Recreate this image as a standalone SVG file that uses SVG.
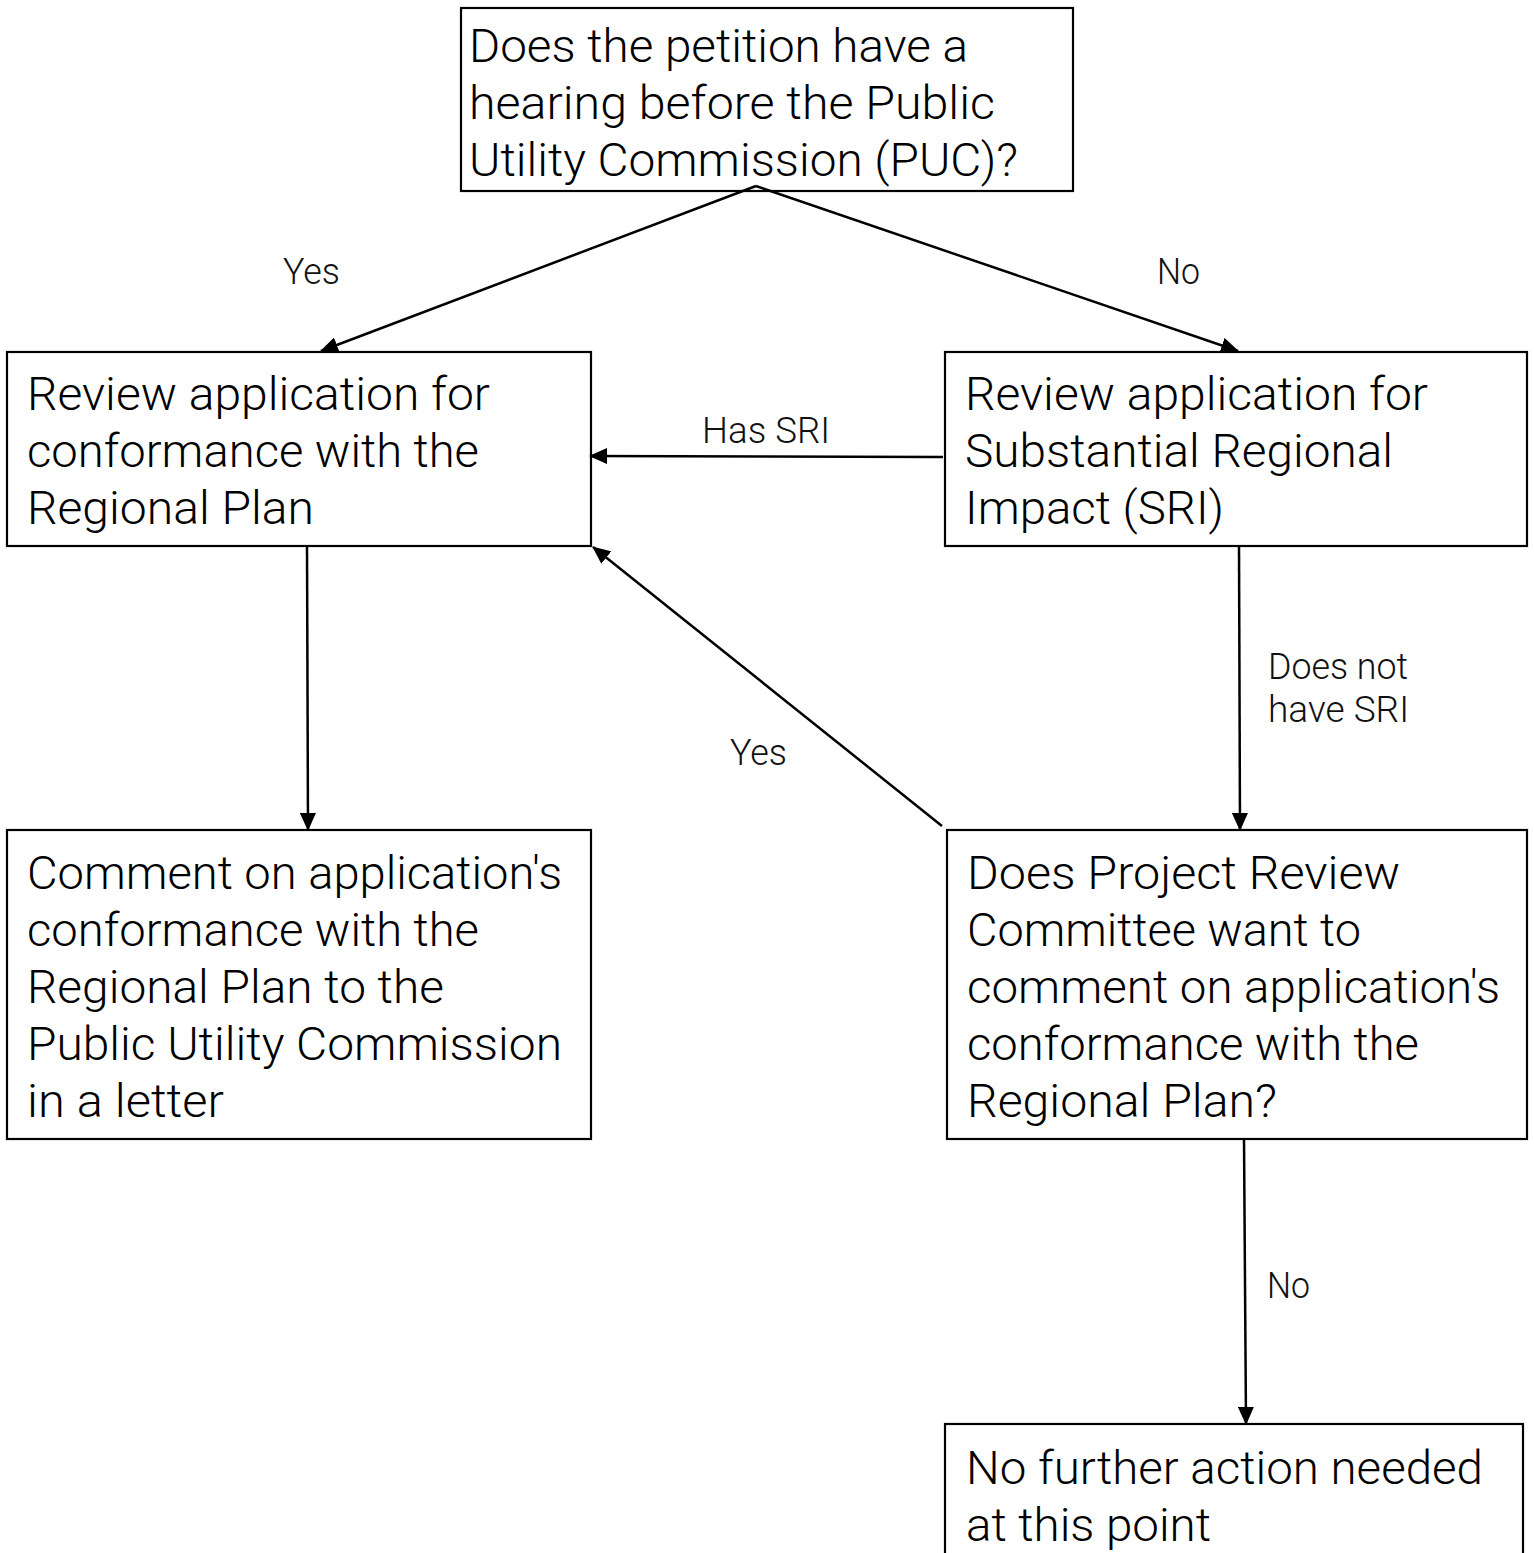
<svg xmlns="http://www.w3.org/2000/svg" width="1534" height="1553" viewBox="0 0 1534 1553">
<style>
  .box { fill: #ffffff; stroke: #000000; stroke-width: 2.2; }
  .t { font-family: Roboto, "Liberation Sans", sans-serif; font-weight: 300; font-size: 47px; fill: #000000; }
  .lbl { font-family: Roboto, "Liberation Sans", sans-serif; font-weight: 300; font-size: 36px; fill: #111111; }
  .edge { stroke: #000000; stroke-width: 2.5; fill: none; marker-end: url(#arrow); }
</style>
<defs>
  <marker id="arrow" markerUnits="userSpaceOnUse" markerWidth="18" markerHeight="16" refX="17" refY="8" orient="auto">
    <path d="M0,0 L18,8 L0,16 z" fill="#000000"/>
  </marker>
</defs>
<rect x="0" y="0" width="1534" height="1553" fill="#ffffff"/>

<g id="node-puc">
  <rect class="box" x="461" y="8" width="612" height="183"/>
  <text class="t" x="469" y="62" textLength="499" lengthAdjust="spacingAndGlyphs">Does the petition have a</text>
  <text class="t" x="469" y="119" textLength="526" lengthAdjust="spacingAndGlyphs">hearing before the Public</text>
  <text class="t" x="469" y="176" textLength="549" lengthAdjust="spacingAndGlyphs">Utility Commission (PUC)?</text>
</g>

<g id="node-review-conformance">
  <rect class="box" x="7" y="352" width="584" height="194"/>
  <text class="t" x="27" y="410" textLength="463" lengthAdjust="spacingAndGlyphs">Review application for</text>
  <text class="t" x="27" y="467" textLength="452" lengthAdjust="spacingAndGlyphs">conformance with the</text>
  <text class="t" x="27" y="524" textLength="287" lengthAdjust="spacingAndGlyphs">Regional Plan</text>
</g>

<g id="node-review-sri">
  <rect class="box" x="945" y="352" width="582" height="194"/>
  <text class="t" x="965" y="410" textLength="463" lengthAdjust="spacingAndGlyphs">Review application for</text>
  <text class="t" x="965" y="467" textLength="428" lengthAdjust="spacingAndGlyphs">Substantial Regional</text>
  <text class="t" x="965" y="524" textLength="259" lengthAdjust="spacingAndGlyphs">Impact (SRI)</text>
</g>

<g id="node-comment">
  <rect class="box" x="7" y="830" width="584" height="309"/>
  <text class="t" x="27" y="889" textLength="535" lengthAdjust="spacingAndGlyphs">Comment on application's</text>
  <text class="t" x="27" y="946" textLength="452" lengthAdjust="spacingAndGlyphs">conformance with the</text>
  <text class="t" x="27" y="1003" textLength="417" lengthAdjust="spacingAndGlyphs">Regional Plan to the</text>
  <text class="t" x="27" y="1060" textLength="535" lengthAdjust="spacingAndGlyphs">Public Utility Commission</text>
  <text class="t" x="27" y="1117" textLength="197" lengthAdjust="spacingAndGlyphs">in a letter</text>
</g>

<g id="node-committee">
  <rect class="box" x="947" y="830" width="580" height="309"/>
  <text class="t" x="967" y="889" textLength="433" lengthAdjust="spacingAndGlyphs">Does Project Review</text>
  <text class="t" x="967" y="946" textLength="394" lengthAdjust="spacingAndGlyphs">Committee want to</text>
  <text class="t" x="967" y="1003" textLength="533" lengthAdjust="spacingAndGlyphs">comment on application's</text>
  <text class="t" x="967" y="1060" textLength="452" lengthAdjust="spacingAndGlyphs">conformance with the</text>
  <text class="t" x="967" y="1117" textLength="310" lengthAdjust="spacingAndGlyphs">Regional Plan?</text>
</g>

<g id="node-no-action">
  <rect class="box" x="945" y="1424" width="578" height="160"/>
  <text class="t" x="966" y="1484" textLength="517" lengthAdjust="spacingAndGlyphs">No further action needed</text>
  <text class="t" x="966" y="1541" textLength="245" lengthAdjust="spacingAndGlyphs">at this point</text>
</g>

<g id="connectors">
  <line class="edge" x1="756" y1="186" x2="321" y2="351"/>
  <line class="edge" x1="756" y1="186" x2="1238" y2="351"/>
  <line class="edge" x1="943" y1="457" x2="590" y2="456"/>
  <line class="edge" x1="307" y1="546" x2="308" y2="830"/>
  <line class="edge" x1="1239" y1="546" x2="1240" y2="830"/>
  <line class="edge" x1="942" y1="826" x2="593" y2="547"/>
  <line class="edge" x1="1244" y1="1139" x2="1246" y2="1424"/>
</g>

<g id="edge-labels">
  <text class="lbl" x="283" y="284" textLength="57" lengthAdjust="spacingAndGlyphs">Yes</text>
  <text class="lbl" x="1157" y="284" textLength="43" lengthAdjust="spacingAndGlyphs">No</text>
  <text class="lbl" x="702" y="443" textLength="128" lengthAdjust="spacingAndGlyphs">Has SRI</text>
  <text class="lbl" x="1268" y="679" textLength="140" lengthAdjust="spacingAndGlyphs">Does not</text>
  <text class="lbl" x="1268" y="722" textLength="141" lengthAdjust="spacingAndGlyphs">have SRI</text>
  <text class="lbl" x="730" y="765" textLength="57" lengthAdjust="spacingAndGlyphs">Yes</text>
  <text class="lbl" x="1267" y="1298" textLength="43" lengthAdjust="spacingAndGlyphs">No</text>
</g>
</svg>
